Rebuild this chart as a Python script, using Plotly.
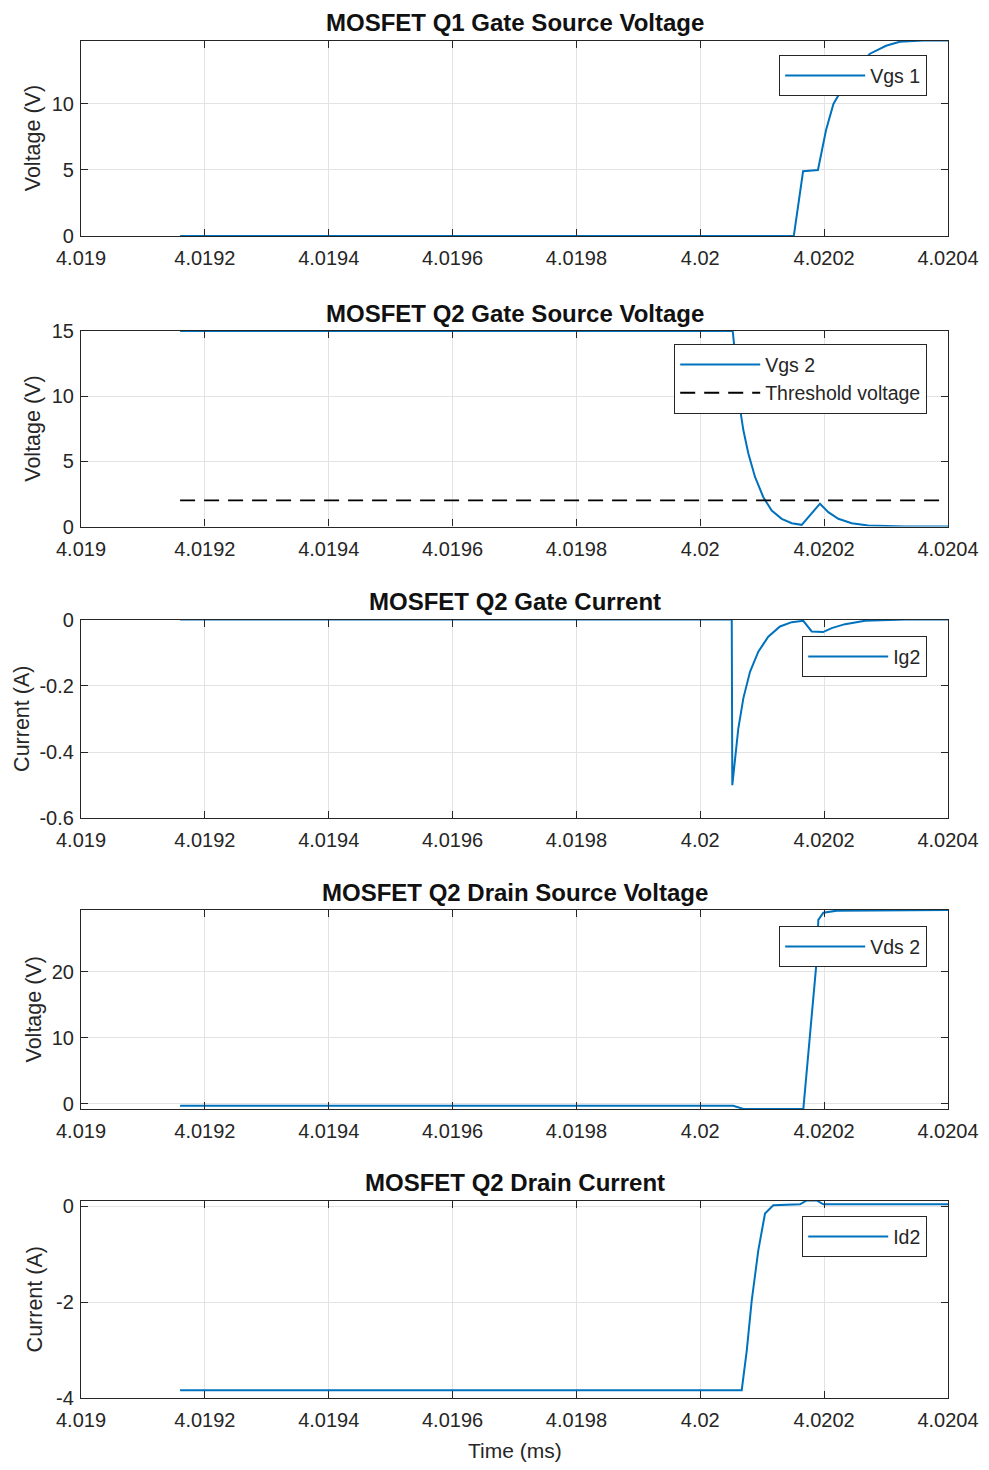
import plotly.graph_objects as go

# ---------------- data (time in ms) ----------------
t_vgs1 = [4.01916, 4.020151, 4.020166, 4.020190, 4.020203, 4.020215, 4.020231,
          4.020250, 4.020274, 4.020300, 4.020322, 4.020360, 4.020400]
vgs1 = [0, 0, 4.9, 5.0, 8.0, 10.0, 11.3, 12.7, 13.8, 14.4, 14.7, 14.8, 14.8]

t_vgs2 = [4.01916, 4.0200524, 4.0200545, 4.0200585, 4.0200642, 4.0200695, 4.0200776,
          4.0200884, 4.0201018, 4.0201153, 4.0201315, 4.0201477, 4.0201638,
          4.0201933, 4.0202067, 4.0202229, 4.0202445, 4.0202713, 4.0203306, 4.020400]
vgs2 = [15, 15, 14.0, 11.5, 9.05, 7.4, 5.6, 3.8, 2.25, 1.23, 0.59, 0.25, 0.13,
        1.75, 1.1, 0.59, 0.25, 0.08, 0.0, 0.0]

t_vth = [4.01916, 4.020400]
vth = [2.0, 2.0]

t_ig2 = [4.01916, 4.0200508, 4.0200517, 4.0200561, 4.0200614, 4.0200695, 4.0200803,
         4.0200937, 4.0201098, 4.0201287, 4.0201477, 4.0201664, 4.0201799, 4.0201982,
         4.0202122, 4.0202337, 4.020266, 4.0203306, 4.020400]
ig2 = [0, 0, -0.50, -0.42, -0.329, -0.238, -0.158, -0.097, -0.052, -0.021, -0.008,
       -0.004, -0.036, -0.038, -0.026, -0.014, -0.004, 0, 0]

t_vds2 = [4.01916, 4.0200533, 4.0200695, 4.0201664, 4.020188, 4.0201906, 4.0201987,
          4.0202203, 4.020400]
vds2 = [-0.3, -0.3, -0.8, -0.8, 21.8, 27.9, 29.0, 29.3, 29.4]

t_id2 = [4.01916, 4.0200669, 4.020075, 4.020083, 4.0200937, 4.0201045, 4.0201179,
         4.020161, 4.0201718, 4.020188, 4.0201987, 4.020400]
id2 = [-3.83, -3.83, -3.01, -1.97, -0.92, -0.15, 0.02, 0.04, 0.12, 0.12, 0.04, 0.04]

x_ticks = [4.019, 4.0192, 4.0194, 4.0196, 4.0198, 4.02, 4.0202, 4.0204]
x_ticklabels = ["4.019", "4.0192", "4.0194", "4.0196", "4.0198", "4.02", "4.0202", "4.0204"]

titles = ["MOSFET Q1 Gate Source Voltage", "MOSFET Q2 Gate Source Voltage",
          "MOSFET Q2 Gate Current", "MOSFET Q2 Drain Source Voltage",
          "MOSFET Q2 Drain Current"]
ytitles = ["Voltage (V)", "Voltage (V)", "Current (A)", "Voltage (V)", "Current (A)"]
y_ranges = [[0, 14.8], [0, 15], [-0.6, 0], [-0.8, 29.4], [-4, 0.12]]
y_tickvals = [[0, 5, 10], [0, 5, 10, 15], [-0.6, -0.4, -0.2, 0], [0, 10, 20], [-4, -2, 0]]
y_ticktext = [["0", "5", "10"], ["0", "5", "10", "15"], ["-0.6", "-0.4", "-0.2", "0"],
              ["0", "10", "20"], ["-4", "-2", "0"]]

# ---------------- layout geometry (screen pixels) ----------------
OFF = 8                     # default page body margin
SW, SH = 989, 1470
W, H = SW - 2 * OFF, SH - 2 * OFF
L, R = 81 - OFF, 948 - OFF
tops = [40.5, 331, 619.5, 910, 1200.5]
bots = [236, 526.5, 818.3, 1109, 1398.3]
ytitle_x = [33, 33, 22, 33, 35]
legend_boxes = [(927, 55), (927, 344), (927, 636), (927, 926), (927, 1216)]

BLUE = "#0072BD"
AX = "#262626"
FONT = "Liberation Sans, Arial, Helvetica, sans-serif"

def px2x(px):
    return (px - OFF - L) / (R - L)

def py2y(py):
    return 1 - (py - OFF) / H

fig = go.Figure()

series = [
    [(t_vgs1, vgs1, "Vgs 1", "solid", BLUE)],
    [(t_vgs2, vgs2, "Vgs 2", "solid", BLUE), (t_vth, vth, "Threshold voltage", "15px,9px", "#000000")],
    [(t_ig2, ig2, "Ig2", "solid", BLUE)],
    [(t_vds2, vds2, "Vds 2", "solid", BLUE)],
    [(t_id2, id2, "Id2", "solid", BLUE)],
]

annotations = []
for i in range(5):
    n = i + 1
    xa = "x" if n == 1 else f"x{n}"
    ya = "y" if n == 1 else f"y{n}"
    lg = "legend" if n == 1 else f"legend{n}"
    for (tx, vy, name, dash, col) in series[i]:
        fig.add_trace(go.Scatter(
            x=tx, y=vy, mode="lines", name=name, xaxis=xa, yaxis=ya, legend=lg,
            line=dict(color=col, width=2 if col == BLUE else 1.8, dash=dash),
        ))
    axcommon = dict(
        showline=True, linecolor=AX, linewidth=1.2, mirror="ticks",
        ticks="inside", ticklen=7, tickcolor=AX, tickwidth=1.2,
        showgrid=True, gridcolor="#e3e3e3", gridwidth=1, zeroline=False,
        tickfont=dict(family=FONT, size=20, color=AX),
    )
    fig.layout[("xaxis" if n == 1 else f"xaxis{n}")] = dict(
        axcommon, domain=[0, 1], range=[4.019, 4.0204], anchor=ya,
        tickvals=x_ticks, ticktext=x_ticklabels, ticklabelstandoff=4,
    )
    fig.layout[("yaxis" if n == 1 else f"yaxis{n}")] = dict(
        axcommon, domain=[py2y(bots[i]), py2y(tops[i])], range=y_ranges[i], anchor=xa,
        tickvals=y_tickvals[i], ticktext=y_ticktext[i], ticklabelstandoff=2,
    )
    bx, by = legend_boxes[i]
    fig.layout[lg] = dict(
        x=px2x(bx), y=py2y(by), xanchor="right", yanchor="top",
        xref="paper", yref="paper",
        bgcolor="white", bordercolor="#262626", borderwidth=1.2,
        font=dict(family=FONT, size=19.5, color=AX),
        itemwidth=80, tracegroupgap=0,
    )
    annotations.append(dict(
        text=f"<b>{titles[i]}</b>", x=0.5, y=py2y(tops[i] - 18),
        xref="paper", yref="paper", xanchor="center", yanchor="middle",
        showarrow=False, borderpad=0,
        font=dict(family=FONT, size=24, color="#111111"),
    ))
    annotations.append(dict(
        text=ytitles[i], x=px2x(ytitle_x[i]), y=py2y((tops[i] + bots[i]) / 2),
        xref="paper", yref="paper", xanchor="center", yanchor="middle",
        textangle=-90, showarrow=False, font=dict(family=FONT, size=21.5, color=AX),
    ))

annotations.append(dict(
    text="Time (ms)", x=px2x(515), y=py2y(1450), xref="paper", yref="paper",
    xanchor="center", yanchor="middle", showarrow=False,
    font=dict(family=FONT, size=21, color=AX),
))

fig.update_layout(
    width=W, height=H,
    margin=dict(l=L, r=W - R, t=0, b=0, autoexpand=False),
    paper_bgcolor="white", plot_bgcolor="white",
    annotations=annotations,
    showlegend=True,
)

fig.write_html("out.html")
